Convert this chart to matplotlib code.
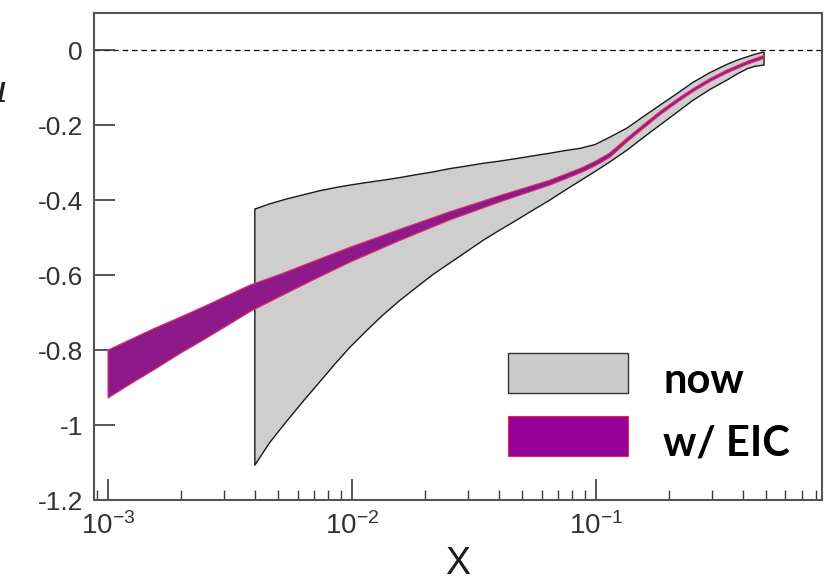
import matplotlib
matplotlib.use("Agg")
import matplotlib.pyplot as plt
import numpy as np
from matplotlib.patches import Rectangle

plt.rcParams['font.family'] = ['Liberation Sans', 'DejaVu Sans']
plt.rcParams['mathtext.fontset'] = 'custom'
plt.rcParams['mathtext.rm'] = 'Liberation Sans'

# current uncertainty band ("now")
now_x = [0.004, 0.0046, 0.0054, 0.0064, 0.00738, 0.0085, 0.0098, 0.0115, 0.01338,
         0.0157, 0.01845, 0.02146, 0.0252, 0.0296, 0.0344, 0.0404, 0.0475, 0.0552,
         0.0648, 0.0747, 0.0861, 0.0992, 0.1143, 0.1342, 0.1561, 0.1832, 0.2152,
         0.2503, 0.2938, 0.3451, 0.3793, 0.4169, 0.4497, 0.49]
now_hi = [-0.424, -0.410, -0.397, -0.385, -0.375, -0.367, -0.360, -0.353, -0.347,
          -0.340, -0.332, -0.325, -0.316, -0.309, -0.302, -0.296, -0.289, -0.282,
          -0.275, -0.268, -0.262, -0.252, -0.232, -0.208, -0.178, -0.147, -0.116,
          -0.086, -0.060, -0.038, -0.027, -0.018, -0.011, -0.005]
now_lo = [-1.107, -1.047, -0.990, -0.932, -0.885, -0.838, -0.793, -0.748, -0.707,
          -0.668, -0.632, -0.599, -0.568, -0.537, -0.508, -0.480, -0.453, -0.427,
          -0.400, -0.374, -0.349, -0.324, -0.298, -0.267, -0.234, -0.200, -0.166,
          -0.134, -0.105, -0.080, -0.064, -0.050, -0.043, -0.040]

# projected band with EIC data
eic_x = [0.001, 0.001225, 0.00155, 0.001965, 0.00249, 0.00315, 0.00381, 0.00508,
         0.00704, 0.0098, 0.0157, 0.0252, 0.0404, 0.0648, 0.0861, 0.0992, 0.1143,
         0.1342, 0.1561, 0.1832, 0.2152, 0.2503, 0.2938, 0.3451, 0.4169, 0.49]
eic_hi = [-0.800, -0.773, -0.742, -0.713, -0.683, -0.652, -0.627, -0.598,
          -0.562, -0.526, -0.478, -0.431, -0.388, -0.347, -0.316, -0.297, -0.274,
          -0.235, -0.200, -0.164, -0.131, -0.103, -0.076, -0.053, -0.030, -0.014]
eic_lo = [-0.928, -0.892, -0.852, -0.810, -0.771, -0.731, -0.698, -0.657,
          -0.611, -0.566, -0.508, -0.453, -0.405, -0.360, -0.328, -0.309, -0.286,
          -0.245, -0.210, -0.173, -0.140, -0.111, -0.084, -0.061, -0.038, -0.022]

y_ticks = [0, -0.2, -0.4, -0.6, -0.8, -1, -1.2]
y_ticklabels = ['0', '-0.2', '-0.4', '-0.6', '-0.8', '-1', '-1.2']
legend_labels = ['now', 'w/ EIC']

fig = plt.figure(figsize=(8.34, 5.84), dpi=100)
ax = fig.add_axes([0.1127, 0.1438, 0.9856 - 0.1127, 0.9777 - 0.1438])

edge_col = '#3a3a3a'
ax.set_xscale('log')
ax.set_xlim(8.76e-4, 0.847)
ax.set_ylim(-1.2, 0.099)

# bands as closed polygons
px = np.concatenate([now_x, now_x[::-1]])
py = np.concatenate([now_hi, now_lo[::-1]])
ax.fill(px, py, facecolor='#cecece', edgecolor='#1a1a1a', linewidth=1.0,
        joinstyle='round', zorder=2)

ex = np.concatenate([eic_x, eic_x[::-1]])
ey = np.concatenate([eic_hi, eic_lo[::-1]])
ax.fill(ex, ey, facecolor='#8e1a8a', edgecolor='#e0306a', linewidth=0.8,
        joinstyle='round', zorder=3)

ax.axhline(0, color='black', linestyle=(0, (4.5, 3)), linewidth=0.9, zorder=1)

ax.set_yticks(y_ticks)
ax.set_yticklabels(y_ticklabels)
ax.tick_params(axis='both', which='major', direction='in', length=15, width=1.2,
               color=edge_col, labelcolor='#333333', pad=8,
               top=False, right=False)
ax.tick_params(axis='y', labelsize=19)
ax.tick_params(axis='x', labelsize=20, pad=9)
ax.tick_params(axis='x', which='minor', direction='in', length=7, width=1.0,
               color=edge_col, top=False)
ax.tick_params(axis='y', which='minor', left=False, right=False)
for s in ax.spines.values():
    s.set_color('#555555')
    s.set_linewidth(1.5)

ax.set_xlabel('X', fontsize=27, color='#1a1a1a', labelpad=4)

# legend drawn in figure pixels
W, H = 834, 584
def frect(x0, y0, x1, y1, fc, ec, lw):
    fig.patches.append(Rectangle((x0 / W, 1 - y1 / H), (x1 - x0) / W, (y1 - y0) / H,
                                 transform=fig.transFigure, facecolor=fc,
                                 edgecolor=ec, linewidth=lw, zorder=5))

frect(508, 353, 628, 393, '#cccccc', '#333333', 1.0)
frect(508, 416, 628, 456, '#990099', '#e03040', 0.8)
fig.text(663 / W, 1 - 393 / H, legend_labels[0], fontsize=30, fontweight='bold',
         family=['Lato', 'DejaVu Sans'], ha='left', va='baseline', color='black')
fig.text(663 / W, 1 - 455 / H, legend_labels[1], fontsize=30, fontweight='bold',
         family=['Lato', 'DejaVu Sans'], ha='left', va='baseline', color='black')

# axis title, mostly outside the left edge of the canvas
fig.text(9 / W, 1 - 102 / H, 'xΔu', fontsize=28, ha='right', va='baseline',
         family=['DejaVu Serif'], style='italic', color='#222222')

fig.savefig('out.png', dpi=100)
